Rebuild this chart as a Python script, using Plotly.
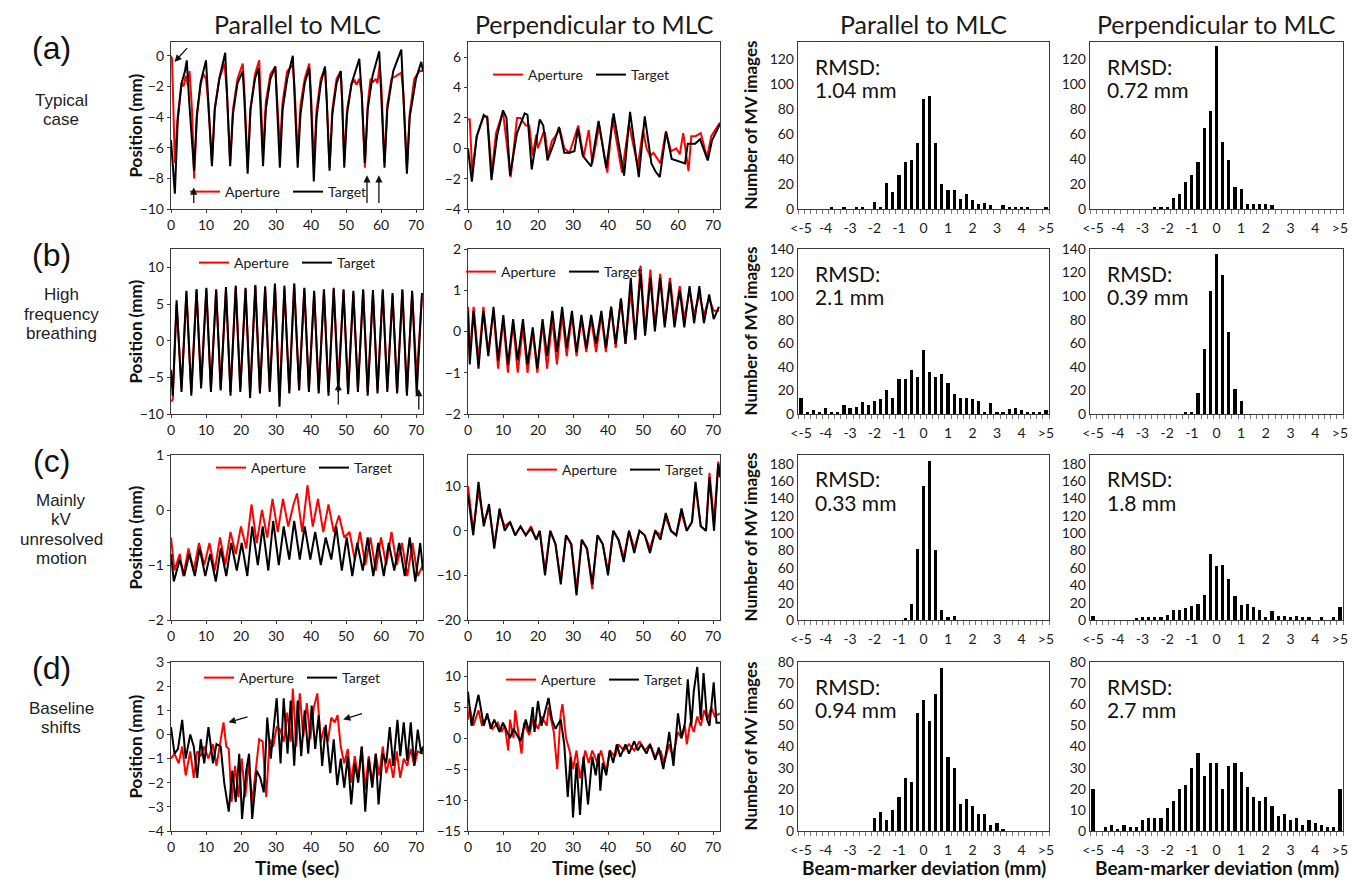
import plotly.graph_objects as go

W, H = 1356, 881

# ------------------------------------------------------------------ data
# (a) typical case - parallel
a1_tg_t = [0, 1.1, 1.9, 3.0, 4.0, 4.5, 5.2, 6.6, 7.4, 8.5, 10.0, 10.6, 11.7, 12.5, 13.8, 15.5, 16.0, 16.9, 17.7, 19.0, 20.5, 21.0, 21.9, 22.7, 24.0, 25.0, 25.5, 26.3, 27.1, 28.4, 29.8, 30.3, 31.1, 31.9, 33.2, 34.8, 35.3, 36.2, 37.0, 38.2, 39.5, 40.0, 40.8, 41.6, 42.8, 44.0, 44.5, 45.3, 46.1, 47.3, 48.5, 48.9, 49.5, 50.3, 51.6, 53.0, 53.8, 54.5, 55.4, 56.2, 57.6, 59.5, 60.1, 61.0, 61.8, 63.5, 65.8, 66.4, 67.4, 68.2, 70.0, 71.5, 72]
a1_tg_y = [-5.5, -9.0, -4.3, -1.8, -1.0, -0.3, -3.0, -7.5, -3.8, -1.7, -0.3, -3.0, -7.2, -3.5, -1.5, 0.2, -2.5, -7.2, -3.8, -1.8, -1.0, -3.0, -7.7, -3.5, -1.5, -0.8, -3.0, -7.2, -3.5, -1.5, -0.7, -3.0, -7.3, -3.5, -1.5, 0.0, -2.5, -7.3, -3.8, -1.8, -0.8, -3.0, -8.2, -4.0, -1.8, -0.7, -3.0, -7.5, -3.8, -1.8, -1.0, -3.0, -7.3, -3.8, -1.8, -0.8, -0.2, -2.5, -7.0, -3.5, -1.3, 0.3, -2.5, -7.3, -3.5, -1.0, 0.4, -2.5, -7.7, -4.0, -1.5, -0.4, -1.0]
a1_ap_t = [0, 0.3, 1.1, 1.9, 3.0, 3.6, 4.2, 4.8, 5.3, 6.0, 6.6, 7.4, 8.5, 9.3, 10.0, 10.6, 11.7, 12.5, 13.8, 15.3, 16.0, 16.9, 17.7, 19.0, 20.5, 21.0, 21.9, 22.7, 24.0, 25.2, 25.6, 26.3, 27.1, 28.4, 29.8, 30.3, 31.1, 31.9, 33.2, 34.8, 35.3, 36.2, 37.0, 38.2, 39.5, 40.0, 40.8, 41.6, 42.8, 44.0, 44.5, 45.3, 46.1, 47.3, 48.5, 48.9, 49.5, 50.3, 51.6, 52.5, 53.0, 53.8, 54.5, 55.4, 56.2, 57.0, 57.8, 58.5, 59.0, 59.6, 60.1, 61.0, 61.8, 63.0, 64.5, 65.8, 66.4, 67.4, 68.2, 69.5, 71.0, 72]
a1_ap_y = [0.0, -0.2, -7.0, -4.0, -1.8, -2.0, -1.3, -1.9, -1.0, -3.5, -8.0, -4.0, -1.8, -1.2, -1.5, -3.0, -7.0, -3.5, -1.5, -0.5, -2.5, -7.0, -3.5, -1.5, -0.5, -2.5, -7.3, -3.5, -1.2, -0.3, -2.5, -6.5, -3.0, -1.2, -0.7, -2.5, -6.0, -3.0, -1.0, -0.6, -2.0, -6.5, -3.2, -1.5, -0.5, -2.5, -7.0, -3.5, -1.5, -0.8, -2.8, -7.3, -3.5, -1.5, -1.0, -2.8, -6.8, -3.5, -1.8, -1.6, -1.9, -1.5, -2.5, -7.3, -3.2, -1.5, -1.7, -1.5, -1.8, -0.6, -2.0, -7.0, -3.2, -1.5, -1.3, -1.1, -2.5, -7.3, -3.8, -1.5, -1.0, -1.0]
# (a) typical case - perpendicular
a2_tg_t = [0, 1.1, 2.5, 4.5, 5.5, 6.7, 8.3, 10.0, 11.0, 12.0, 14.0, 16.2, 17.0, 18.2, 20.5, 21.5, 22.7, 24.5, 26.0, 27.5, 29.0, 30.4, 31.4, 32.8, 35.2, 37.3, 39.5, 41.6, 44.6, 46.3, 48.8, 50.5, 52.4, 53.5, 54.8, 56.6, 58.2, 60.6, 62.0, 62.8, 64.9, 66.3, 68.5, 69.7, 72]
a2_tg_y = [0.0, -2.2, 0.8, 2.2, 2.0, -2.1, 0.8, 2.5, 2.0, -1.8, 1.0, 2.3, 2.2, -1.4, 1.9, 1.5, -0.8, 0.3, 1.4, -0.3, -0.3, -0.2, 1.3, -0.5, -1.2, 1.8, -1.3, 2.3, -1.8, 2.4, -1.9, 2.1, -1.0, -1.5, -1.9, 1.1, -0.7, -0.9, -1.0, 0.3, 0.3, 0.6, -0.8, 0.5, 1.6]
a2_ap_t = [0, 0.5, 1.2, 2.5, 4.5, 5.5, 6.8, 8.0, 10.0, 12.2, 14.0, 15.0, 16.5, 17.5, 18.5, 19.5, 20.0, 21.5, 22.0, 22.8, 24.0, 25.0, 26.2, 27.5, 29.0, 31.5, 33.0, 34.5, 35.5, 37.5, 39.8, 41.3, 44.0, 46.0, 48.5, 50.0, 51.0, 52.0, 53.0, 55.0, 56.5, 58.0, 59.5, 60.5, 61.5, 63.0, 63.8, 65.0, 66.5, 68.3, 69.5, 72]
a2_ap_y = [1.9, 1.9, -1.5, 0.8, 2.1, 2.1, -1.6, 1.0, 2.4, -1.9, 2.0, 2.0, 1.5, 1.5, -0.5, 0.9, 0.0, 1.0, 1.0, -0.5, 0.5, 0.8, 1.3, 0.0, -0.3, 1.5, -0.6, 1.2, -1.0, 1.5, -1.6, 2.0, -1.6, 1.6, -1.2, 1.2, 0.0, -0.5, -0.3, -1.0, 1.1, -0.2, 0.0, -0.4, 1.0, -1.5, 0.8, 0.8, 1.0, -0.6, 0.8, 1.7]
# (b) high frequency breathing
b_t = [0, 0.5, 1.6, 3.0, 4.4, 5.8, 7.3, 8.6, 10.1, 11.4, 12.9, 14.2, 15.7, 17.0, 18.5, 19.8, 21.3, 22.6, 24.1, 25.4, 26.9, 28.2, 29.7, 31.0, 32.4, 33.8, 35.2, 36.6, 38.1, 39.4, 40.9, 42.2, 43.7, 45.0, 46.5, 47.8, 49.3, 50.6, 52.1, 53.4, 54.9, 56.2, 57.7, 59.0, 60.5, 61.8, 63.3, 64.6, 66.1, 67.4, 68.9, 70.2, 71.7]
b1_tg_y = [-4.0, -7.5, 5.5, -7.0, 6.8, -7.5, 7.0, -6.5, 7.2, -7.0, 7.0, -6.8, 7.3, -7.5, 7.5, -7.0, 7.2, -7.8, 7.6, -7.2, 7.4, -7.0, 7.8, -9.0, 7.5, -7.2, 7.8, -6.8, 7.2, -7.0, 6.8, -7.2, 7.0, -7.5, 7.2, -7.0, 7.0, -7.3, 6.8, -7.0, 7.0, -7.5, 6.9, -7.2, 7.0, -7.0, 6.5, -7.2, 7.0, -7.5, 6.8, -7.3, 6.5]
b1_ap_y = [-8.3, -8.0, 5.0, -6.5, 6.5, -7.0, 7.0, -6.0, 7.0, -6.5, 6.8, -6.5, 7.0, -7.0, 7.3, -6.5, 7.0, -7.0, 7.5, -6.8, 7.0, -6.5, 7.5, -7.5, 7.0, -6.8, 7.8, -6.5, 7.0, -6.5, 6.5, -6.8, 6.8, -7.0, 7.0, -5.5, 6.8, -7.0, 6.5, -6.5, 6.8, -7.0, 6.5, -6.8, 6.8, -6.5, 6.2, -7.0, 6.8, -7.0, 6.5, -5.0, 6.0]
b2_tg_y = [0.5, -0.8, 0.5, -0.9, 0.5, -0.6, 0.6, -0.7, 0.4, -0.8, 0.3, -0.7, 0.3, -0.8, 0.1, -0.9, 0.3, -0.6, 0.5, -0.5, 0.6, -0.4, 0.5, -0.5, 0.4, -0.4, 0.4, -0.3, 0.5, -0.4, 0.6, -0.3, 0.8, -0.3, 1.3, -0.2, 1.4, -0.1, 1.3, 0.0, 1.3, 0.1, 1.2, 0.1, 1.0, 0.1, 1.1, 0.2, 1.1, 0.2, 0.9, 0.3, 0.6]
b2_ap_y = [0.6, -0.6, 0.6, -0.7, 0.6, -0.5, 0.5, -0.9, 0.3, -1.0, 0.2, -1.0, 0.1, -1.0, 0.0, -1.0, 0.2, -0.9, 0.3, -0.8, 0.4, -0.6, 0.4, -0.6, 0.3, -0.5, 0.3, -0.5, 0.4, -0.5, 0.6, -0.4, 0.8, -0.3, 1.0, -0.2, 1.6, 0.0, 1.5, 0.1, 1.4, 0.2, 1.3, 0.3, 1.1, 0.3, 1.0, 0.4, 0.9, 0.4, 0.8, 0.5, 0.5]
# (c) mainly kV unresolved motion
c1_ap_t = [0, 1.0, 2.5, 3.5, 5.0, 6.5, 8.0, 9.5, 11.0, 12.5, 14.0, 15.5, 17.0, 18.5, 20.0, 21.5, 23.0, 24.5, 26.0, 27.5, 29.0, 30.5, 32.0, 33.5, 35.0, 36.0, 37.5, 39.0, 40.5, 42.0, 43.5, 45.0, 46.5, 48.0, 49.5, 51.0, 52.5, 54.0, 55.5, 57.0, 58.5, 60.0, 61.5, 63.0, 64.5, 66.0, 67.5, 69.0, 70.5, 72.0]
c1_ap_y = [-0.5, -1.1, -0.8, -1.2, -0.7, -1.1, -0.6, -1.0, -0.6, -1.1, -0.5, -1.0, -0.4, -0.8, -0.3, -0.7, 0.1, -0.6, 0.0, -0.5, 0.2, -0.4, 0.2, -0.3, 0.1, 0.3, -0.4, 0.45, -0.3, 0.2, -0.4, 0.1, -0.4, -0.1, -0.5, -0.4, -0.9, -0.4, -1.0, -0.5, -1.1, -0.5, -1.0, -0.4, -1.0, -0.6, -1.2, -0.6, -1.2, -1.0]
c1_tg_t = [0, 0.8, 2.5, 3.8, 5.2, 6.8, 8.2, 9.8, 11.2, 12.8, 14.2, 15.8, 17.2, 18.8, 20.2, 21.8, 23.2, 24.8, 26.2, 27.8, 29.2, 30.8, 32.2, 33.8, 35.2, 36.8, 38.2, 39.8, 41.2, 42.8, 44.2, 45.8, 47.2, 48.8, 50.2, 51.8, 53.2, 54.8, 56.2, 57.8, 59.2, 60.8, 62.2, 63.8, 65.2, 66.8, 68.2, 69.8, 71.2, 72.0]
c1_tg_y = [-0.8, -1.3, -0.9, -1.2, -0.8, -1.2, -0.7, -1.2, -0.8, -1.3, -0.7, -1.2, -0.6, -1.1, -0.6, -1.2, -0.3, -1.0, -0.3, -1.1, -0.2, -1.0, -0.3, -0.9, -0.2, -0.9, -0.3, -0.9, -0.4, -1.0, -0.5, -0.9, -0.3, -1.1, -0.5, -1.2, -0.6, -1.1, -0.5, -1.2, -0.6, -1.2, -0.6, -1.1, -0.6, -1.2, -0.5, -1.3, -0.6, -1.1]
c2_t = [0, 1.5, 3.0, 4.5, 6.0, 7.5, 9.0, 10.5, 12.0, 13.5, 15.0, 16.5, 18.0, 19.5, 20.5, 22.0, 23.5, 25.0, 26.5, 28.0, 29.5, 31.0, 32.5, 34.0, 35.5, 37.0, 38.5, 40.0, 41.5, 43.0, 44.5, 46.0, 47.5, 49.0, 50.5, 52.0, 53.5, 55.0, 56.5, 58.0, 59.5, 61.0, 62.5, 64.0, 65.0, 66.5, 68.0, 69.0, 70.3, 71.5, 72.0]
c2_tg_y = [8, -1, 11, 1, 6, -4, 5, 0, 2, -1, 1, -1, 0.5, -2, 0, -10, 0, -3, -12, -1, -3, -14.5, -2, -4, -12, -1, -3, -10, 0, -2, -7, 0, -5, 0, -1, -5, 0, -2, 4, 0, -1, 5, 0, 2, 11, 1, 0, 12, 0, 15, 12]
c2_ap_y = [10, 0, 9, 2, 5, -3, 4, 1, 2, -1, 1, -1, 1, -2, 0, -9, 0, -3, -11, -1, -3, -13, -2, -4, -13, -1, -3, -9, 0, -2, -6, 0, -4, 0, -1, -4, 0, -1, 3, 0, -1, 4, 0, 2, 10, 1, 0, 13, 2, 15.5, 13]
# (d) baseline shifts
d1_tg_t = [0, 1.0, 2.0, 3.2, 4.2, 5.5, 6.5, 7.5, 8.5, 9.5, 10.7, 12.0, 13.0, 14.2, 15.2, 16.5, 17.5, 18.5, 19.5, 20.3, 21.5, 22.3, 23.2, 24.5, 25.5, 26.5, 27.5, 28.5, 29.5, 30.2, 31.3, 32.2, 33.3, 34.2, 35.2, 36.2, 37.2, 38.2, 39.2, 40.2, 41.2, 42.2, 43.2, 44.2, 45.5, 46.5, 47.5, 48.5, 49.5, 50.5, 51.5, 52.5, 53.5, 54.5, 55.5, 56.5, 57.5, 58.5, 59.3, 60.5, 61.5, 62.5, 63.5, 64.7, 65.5, 66.5, 67.5, 68.5, 69.5, 70.5, 71.5, 72]
d1_tg_y = [0.3, -0.8, -0.6, 0.6, -1.0, 0.0, -0.5, -1.8, -0.2, -1.2, 0.3, -1.2, -0.4, -0.5, -2.0, -3.2, -1.5, -2.8, -0.8, -3.5, -1.5, -0.8, -3.5, -1.5, -1.8, -2.4, 0.7, -1.0, 0.5, 1.5, -1.2, 1.5, -0.8, 1.4, -1.3, 1.4, -0.9, 1.0, -0.8, 1.2, -0.6, 0.8, -1.3, 0.4, -1.6, -0.2, -2.1, -1.0, -2.2, -0.9, -2.9, -1.2, -2.0, -0.5, -3.2, -1.0, -2.2, -0.8, -2.9, -0.8, -1.2, 0.3, -1.3, 0.6, -0.9, 0.5, -1.1, 0.5, -1.3, 0.2, -0.8, -0.5]
d1_ap_t = [0, 1.0, 2.2, 3.2, 4.2, 5.5, 6.5, 7.5, 8.5, 9.5, 10.7, 12.0, 13.0, 14.2, 15.0, 15.8, 16.5, 17.3, 18.3, 19.3, 20.2, 21.2, 22.2, 23.2, 24.2, 25.2, 26.2, 27.2, 28.2, 29.2, 30.2, 31.2, 32.2, 33.2, 34.2, 34.8, 35.8, 36.8, 37.8, 38.8, 39.8, 40.8, 41.8, 42.8, 43.8, 44.8, 45.8, 46.8, 47.6, 48.5, 49.5, 50.5, 51.5, 52.5, 53.5, 54.5, 55.5, 56.5, 57.5, 58.5, 59.5, 60.5, 61.5, 62.5, 63.5, 64.5, 65.5, 66.5, 67.5, 68.5, 69.5, 70.5, 72]
d1_ap_y = [-1.0, -0.8, -1.2, -0.5, -1.7, -0.7, -1.8, -0.7, -0.9, -0.5, -1.0, -0.4, -1.3, -0.2, 0.5, -0.5, -0.6, -2.8, -1.3, -2.6, -1.0, -2.6, -1.2, -2.8, -1.5, -0.2, -0.3, -2.6, -0.2, -0.5, 0.3, 0.2, -0.3, 0.9, -0.3, 1.9, -0.5, 1.7, -0.1, 1.3, -0.2, 1.1, 1.7, -0.3, 0.3, -0.3, 0.7, 0.5, 0.8, -0.5, -1.2, -0.6, -2.0, -0.9, -1.8, -0.5, -2.3, -0.9, -2.0, -0.8, -1.7, -0.5, -1.6, -1.0, -1.8, -0.7, -1.8, -1.0, -1.3, -0.6, -1.3, -0.7, -0.8]
d2_tg_t = [0, 1.0, 3.0, 4.5, 5.5, 6.5, 7.5, 9.0, 10.0, 12.0, 13.0, 15.0, 16.5, 17.5, 18.5, 19.0, 20.0, 21.0, 23.0, 24.0, 25.0, 26.5, 27.5, 28.5, 29.3, 30.0, 31.0, 32.0, 33.0, 34.3, 35.5, 36.5, 37.3, 37.8, 38.5, 39.5, 40.5, 41.5, 42.5, 43.5, 45.0, 46.0, 47.5, 48.5, 49.5, 51.0, 52.0, 53.5, 54.5, 55.8, 57.0, 57.5, 58.7, 60.0, 61.0, 62.0, 62.8, 63.8, 64.5, 65.5, 66.5, 67.3, 68.3, 69.0, 70.2, 71.0, 72.0]
d2_tg_y = [7.5, 2, 7, 2, 4, 1.5, 3, 1, 2.5, 0, 1.5, -0.5, 3, 1, 5, 1, 6, 2, 6.5, 3, 1.5, 3, -1, -9.5, -3, -12.8, -4, -12.4, -3, -10.7, -3, -6, -2.5, -8.5, -4, -6, -2, -4, -1, -3, -1, -2.5, -0.5, -2, -1, -2.5, -1, -3.5, -1.5, -5, -1, 1, -4.5, 4, 0, 2.5, 9.5, 2, 7.5, 11.5, 3, 10.5, 3, 2, 9, 2.5, 2.5]
d2_ap_t = [0, 0.5, 1.5, 3.0, 4.0, 5.5, 7.0, 8.5, 9.5, 10.5, 11.5, 12.0, 13.0, 13.5, 14.5, 15.3, 16.0, 17.5, 18.5, 20.0, 21.0, 22.5, 23.0, 24.5, 25.5, 26.5, 27.0, 28.0, 29.0, 30.0, 31.0, 32.0, 33.5, 34.5, 35.5, 37.0, 38.0, 39.5, 40.5, 42.0, 43.0, 44.5, 46.0, 47.5, 49.0, 50.5, 52.0, 53.5, 55.0, 56.0, 57.5, 58.5, 60.0, 61.0, 62.0, 62.5, 63.5, 64.5, 65.5, 66.5, 67.5, 68.5, 69.5, 70.5, 72.0]
d2_ap_y = [3, 5, 2, 4.5, 2, 3.5, 1.5, 2.5, 1, 2, -2, 3, 0, 4.5, 0.5, -2.5, 2.5, 0.5, 3, 1.5, 3.5, 2, 5, 1, -5, 4, 5.5, 0, -2, -5, -2, -6.5, -2, -4, -2, -4, -2, -5.5, -2, -3, -1, -2, -1, -2, -0.5, -2, -1, -3, -2, -4, -1, -3, 1, 0, 2, -1, 2.5, 1, 3.5, 2, 4.5, 3, 5, 3.5, 4]

# histogram bins: "<-5", -4.75 ... 4.75, ">5"
hist_bins = [-5.0 + 0.25 * k for k in range(41)]
hist_ticks = [-5, -4, -3, -2, -1, 0, 1, 2, 3, 4, 5]
hist_ticktext = ["<-5", "-4", "-3", "-2", "-1", "0", "1", "2", "3", "4", ">5"]

h_a_par = [0, 0, 0, 0, 0, 1, 0, 1, 0, 2, 1, 0, 6, 2, 21, 14, 27, 38, 39, 53, 88, 91, 53, 20, 15, 15, 8, 12, 7, 4, 5, 3, 0, 3, 1, 1, 1, 1, 0, 0, 1]
h_a_perp = [0, 0, 0, 0, 0, 0, 0, 0, 0, 0, 2, 2, 1, 9, 12, 22, 27, 38, 65, 79, 131, 54, 39, 18, 16, 4, 4, 4, 4, 3, 0, 0, 0, 0, 0, 0, 0, 0, 0, 0, 0]
h_b_par = [14, 1, 3, 2, 5, 2, 2, 8, 5, 6, 10, 8, 11, 13, 20, 14, 30, 30, 37, 31, 54, 36, 31, 34, 26, 17, 14, 14, 13, 11, 2, 9, 2, 2, 4, 5, 3, 1, 1, 1, 3]
h_b_perp = [0, 0, 0, 0, 0, 0, 0, 0, 0, 0, 0, 0, 0, 0, 0, 1, 2, 18, 55, 104, 136, 118, 70, 21, 11, 0, 0, 0, 0, 0, 0, 0, 0, 0, 0, 0, 0, 0, 0, 0, 0]
h_c_par = [0, 0, 0, 0, 0, 0, 0, 0, 0, 0, 0, 0, 0, 0, 0, 0, 0, 2, 18, 82, 154, 183, 81, 11, 4, 5, 0, 0, 0, 0, 0, 0, 0, 0, 0, 0, 0, 0, 0, 0, 0]
h_c_perp = [5, 0, 0, 0, 0, 0, 0, 2, 4, 4, 4, 3, 6, 12, 12, 14, 16, 19, 29, 76, 62, 63, 47, 28, 17, 18, 15, 11, 4, 10, 5, 5, 4, 5, 3, 3, 0, 4, 0, 4, 15]
h_d_par = [0, 0, 0, 0, 0, 0, 0, 0, 0, 0, 0, 0, 6, 9, 5, 10, 16, 25, 23, 56, 62, 52, 65, 77, 35, 30, 13, 15, 12, 8, 8, 3, 4, 1, 0, 0, 0, 0, 0, 0, 0]
h_d_perp = [20, 0, 2, 3, 1, 3, 2, 2, 5, 6, 6, 6, 11, 14, 20, 22, 30, 37, 26, 32, 32, 20, 31, 32, 28, 21, 16, 14, 16, 12, 7, 8, 5, 6, 3, 5, 4, 3, 2, 2, 20]

rmsd_text = [["1.04 mm", "0.72 mm"], ["2.1 mm", "0.39 mm"], ["0.33 mm", "1.8 mm"], ["0.94 mm", "2.7 mm"]]
case_letters = ["(a)", "(b)", "(c)", "(d)"]
case_names = [["Typical", "case"], ["High", "frequency", "breathing"],
              ["Mainly", "kV", "unresolved", "motion"], ["Baseline", "shifts"]]
col_titles = ["Parallel to MLC", "Perpendicular to MLC", "Parallel to MLC", "Perpendicular to MLC"]

# ------------------------------------------------------------------ layout helpers
PAGE_OFF = 8  # default body margin of the html page
col_px = [(171, 423), (468, 720), (798, 1049), (1090, 1343)]
row_px = [(42, 209), (249, 414), (455, 620), (662, 831)]
ts_ranges = [[(-10, 0.9), (-4, 7.0)], [(-10, 12.5), (-2, 2)], [(-2, 1), (-20, 17)], [(-4, 3), (-15, 12.3)]]
ts_dticks = [[2, 2], [5, 1], [1, 10], [1, 5]]
hist_ranges = [(0, 134), (0, 140), (0, 190), (0, 80)]
hist_dticks = [20, 20, 20, 10]
legend_px = [(288, 192), (591, 75), (297, 263), (564, 272), (314, 468), (625, 470), (302, 678), (604, 680)]
word_start = [58, 46, 45, 46]

RED = "#ff0000"
BLACK = "#000000"
AXC = "#3a3a3a"
TICKFONT = dict(family="Lato, Carlito, sans-serif", size=14, color="#1a1a1a")


def fx(p):
    return (p - PAGE_OFF) / W


def fy(p):
    return 1 - (p - PAGE_OFF) / H


ts_series = [
    [((a1_ap_t, a1_ap_y), (a1_tg_t, a1_tg_y)), ((a2_ap_t, a2_ap_y), (a2_tg_t, a2_tg_y))],
    [((b_t, b1_ap_y), (b_t, b1_tg_y)), ((b_t, b2_ap_y), (b_t, b2_tg_y))],
    [((c1_ap_t, c1_ap_y), (c1_tg_t, c1_tg_y)), ((c2_t, c2_ap_y), (c2_t, c2_tg_y))],
    [((d1_ap_t, d1_ap_y), (d1_tg_t, d1_tg_y)), ((d2_ap_t, d2_ap_y), (d2_tg_t, d2_tg_y))],
]
hists = [[h_a_par, h_a_perp], [h_b_par, h_b_perp], [h_c_par, h_c_perp], [h_d_par, h_d_perp]]

fig = go.Figure()
layout = dict(width=W, height=H,
              margin=dict(l=0, r=0, t=0, b=0, pad=0, autoexpand=False),
              paper_bgcolor="white", plot_bgcolor="white", showlegend=True,
              bargap=0)
annotations = []

for r in range(4):
    for c in range(4):
        n = r * 4 + c + 1
        xa = "xaxis" if n == 1 else f"xaxis{n}"
        ya = "yaxis" if n == 1 else f"yaxis{n}"
        xr = "x" if n == 1 else f"x{n}"
        yr = "y" if n == 1 else f"y{n}"
        x0, x1 = col_px[c]
        y0, y1 = row_px[r]
        common = dict(showline=True, mirror=True, linecolor=AXC, linewidth=1.4,
                      showgrid=False, zeroline=False, tickfont=TICKFONT,
                      tickcolor=AXC, ticklen=3, automargin=False)
        if c < 2:
            lg_idx = r * 2 + c + 1
            lg = "legend" if lg_idx == 1 else f"legend{lg_idx}"
            (apt, apy), (tgt, tgy) = ts_series[r][c]
            fig.add_trace(go.Scatter(x=apt, y=apy, mode="lines", name="Aperture",
                                     line=dict(color=RED, width=2), xaxis=xr, yaxis=yr,
                                     legend=lg))
            fig.add_trace(go.Scatter(x=tgt, y=tgy, mode="lines", name="Target",
                                     line=dict(color=BLACK, width=2), xaxis=xr, yaxis=yr,
                                     legend=lg))
            layout[xa] = dict(common, domain=[fx(x0), fx(x1)], anchor=yr, range=[0, 72],
                              tick0=0, dtick=10, ticks="outside")
            lo, hi = ts_ranges[r][c]
            layout[ya] = dict(common, domain=[fy(y1), fy(y0)], anchor=xr, range=[lo, hi],
                              tick0=0, dtick=ts_dticks[r][c], ticks="outside")
            lx, ly = legend_px[lg_idx - 1]
            layout[lg] = dict(x=fx(lx), y=fy(ly), xanchor="center", yanchor="middle",
                              orientation="h", bgcolor="rgba(0,0,0,0)",
                              font=dict(family="Lato, sans-serif", size=14, color="#1a1a1a"),
                              itemwidth=30, tracegroupgap=0, itemclick=False,
                              entrywidth=58, entrywidthmode="pixels")
        else:
            counts = hists[r][c - 2]
            fig.add_trace(go.Bar(x=hist_bins, y=counts, width=0.13, marker=dict(color=BLACK, line=dict(width=0)),
                                 xaxis=xr, yaxis=yr, showlegend=False))
            layout[xa] = dict(common, domain=[fx(x0), fx(x1)], anchor=yr, range=[-5.125, 5.125],
                              tickvals=hist_ticks, ticktext=hist_ticktext, ticks="outside",
                              ticklen=6, tickcolor="rgba(0,0,0,0)",
                              minor=dict(tickvals=[-5.125 + 0.25 * k for k in range(42)],
                                         ticks="outside", ticklen=4, tickcolor="#777"))
            layout[ya] = dict(common, domain=[fy(y1), fy(y0)], anchor=xr, range=list(hist_ranges[r]),
                              tick0=0, dtick=hist_dticks[r], ticks="")
            # RMSD labels
            annotations.append(dict(xref=f"{xr} domain", yref="paper", x=0.06, y=fy(y0 + 24),
                                    text="RMSD:", showarrow=False, xanchor="left", yanchor="middle",
                                    font=dict(family="Lato, sans-serif", size=21, color="#111")))
            annotations.append(dict(xref=f"{xr} domain", yref="paper", x=0.06, y=fy(y0 + 47),
                                    text=rmsd_text[r][c - 2], showarrow=False, xanchor="left",
                                    yanchor="middle",
                                    font=dict(family="Lato, sans-serif", size=21, color="#111")))

# column titles
for c in range(4):
    x0, x1 = col_px[c]
    annotations.append(dict(xref="paper", yref="paper", x=fx((x0 + x1) / 2), y=fy(24),
                            text=col_titles[c], showarrow=False, xanchor="center", yanchor="middle",
                            borderpad=0,
                            font=dict(family="Lato, sans-serif", size=25, color="#1a1a1a")))

# row labels
for r in range(4):
    y0, y1 = row_px[r]
    annotations.append(dict(xref="paper", yref="paper", x=fx(51), y=fy(y0 + 6),
                            text=case_letters[r], showarrow=False, xanchor="center", yanchor="middle",
                            font=dict(family="Liberation Sans, Arial, sans-serif", size=32, color="#111")))
    for i, word in enumerate(case_names[r]):
        annotations.append(dict(xref="paper", yref="paper", x=fx(61), y=fy(y0 + word_start[r] + 19.5 * i),
                                text=word, showarrow=False, xanchor="center", yanchor="middle",
                                font=dict(family="Liberation Sans, Arial, sans-serif", size=17, color="#222")))
    # y-axis titles
    annotations.append(dict(xref="paper", yref="paper", x=fx(135), y=fy((y0 + y1) / 2),
                            text="<b>Position (mm)</b>", showarrow=False, textangle=-90,
                            xanchor="center", yanchor="middle",
                            font=dict(family="Lato, sans-serif", size=17, color="#111")))
    annotations.append(dict(xref="paper", yref="paper", x=fx(750), y=fy((y0 + y1) / 2),
                            text="<b>Number of MV images</b>", showarrow=False, textangle=-90,
                            xanchor="center", yanchor="middle",
                            font=dict(family="Lato, sans-serif", size=17, color="#111")))

# x-axis titles on bottom row
for c, txt in enumerate(["Time (sec)", "Time (sec)", "Beam-marker deviation (mm)", "Beam-marker deviation (mm)"]):
    x0, x1 = col_px[c]
    annotations.append(dict(xref="paper", yref="paper", x=fx((x0 + x1) / 2), y=fy(867),
                            text=f"<b>{txt}</b>", showarrow=False, xanchor="center", yanchor="middle",
                            font=dict(family="Lato, sans-serif", size=19, color="#111")))

# arrows (tip -> tail in data coordinates)
arrows = [
    ("x", "y", 1.0, -0.4, 5.0, 0.6),
    ("x", "y", 6.5, -8.6, 6.5, -9.7),
    ("x", "y", 56.0, -7.8, 56.0, -9.7),
    ("x", "y", 59.4, -7.8, 59.4, -9.7),
    ("x5", "y5", 47.8, -5.8, 47.8, -8.9),
    ("x5", "y5", 70.8, -6.6, 70.8, -9.6),
    ("x13", "y13", 16.4, 0.5, 22.3, 0.75),
    ("x13", "y13", 49.2, 0.62, 55.0, 0.88),
]
for xr, yr, x, y, ax, ay in arrows:
    annotations.append(dict(xref=xr, yref=yr, axref=xr, ayref=yr, x=x, y=y, ax=ax, ay=ay,
                            showarrow=True, arrowhead=2, arrowsize=1.1, arrowwidth=1.3,
                            arrowcolor="#111", text=""))

layout["annotations"] = annotations
fig.update_layout(**layout)
fig.write_html("out.html")
